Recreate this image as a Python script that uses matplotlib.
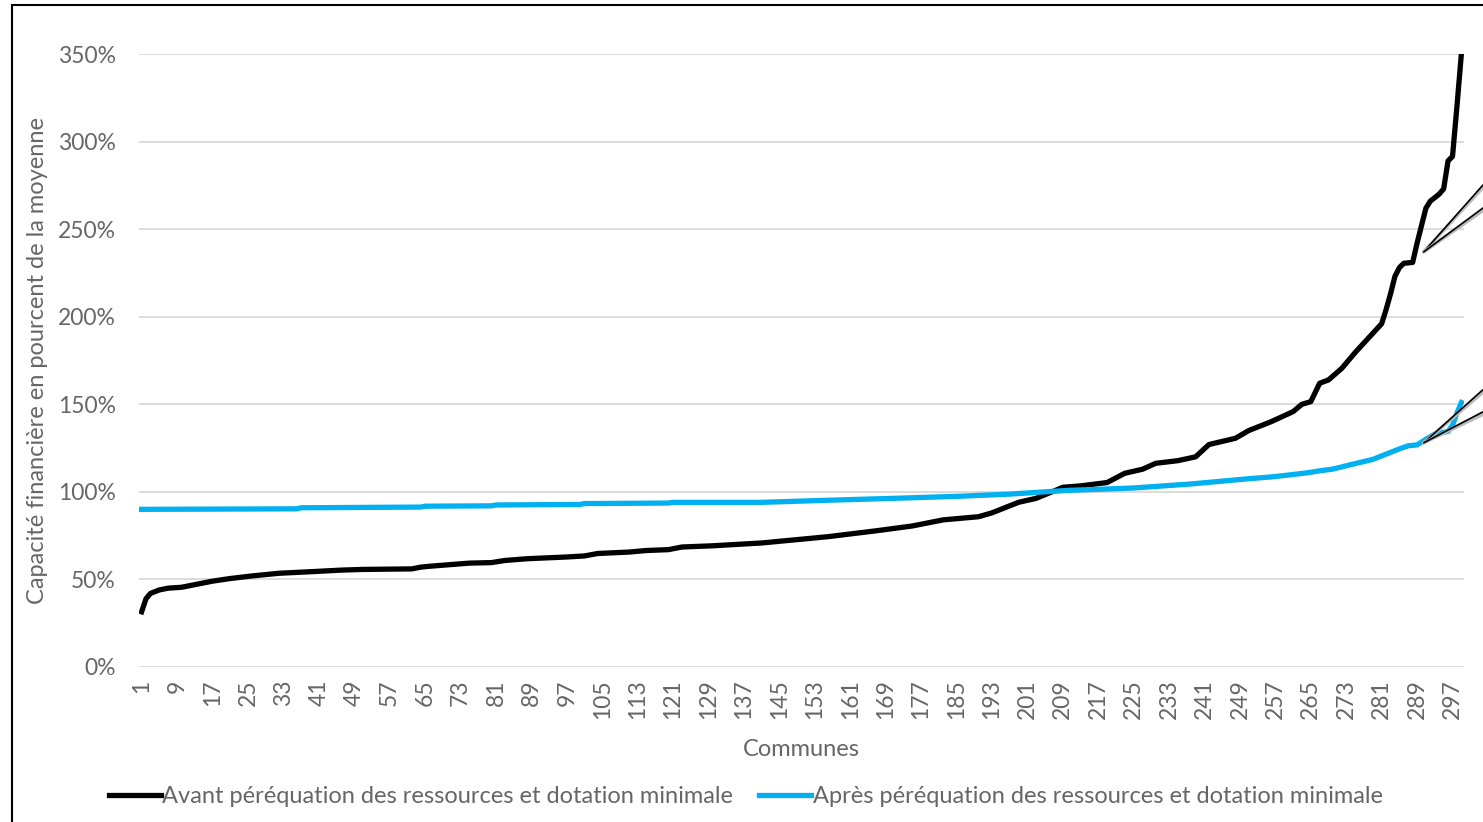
import matplotlib
matplotlib.use('Agg')
import matplotlib.pyplot as plt
from matplotlib.patches import ConnectionPatch, Rectangle
from matplotlib.ticker import FuncFormatter

# sorted communes, capacity in % of the mean
communes_avant = [1, 2, 3, 5, 7, 10, 13, 17, 21, 26, 32, 40, 46, 51, 62, 64, 66, 75, 80, 83,
                  88, 97, 101, 104, 111, 115, 120, 123, 130, 141, 156, 167, 175, 182, 190, 193,
                  196, 199, 203, 208, 209, 213, 219, 223, 227, 230, 235, 239, 242, 248, 251, 256,
                  261, 263, 265, 267, 269, 272, 275, 279, 281, 282, 283, 284, 285, 286, 288, 289,
                  290, 291, 292, 294, 295, 296, 297, 298, 299]
avant = [31.5, 39, 42, 44, 45, 45.5, 47, 49, 50.5, 52, 53.5, 54.5, 55.3, 55.7, 56, 57, 57.5, 59.3, 59.6, 60.8,
         61.8, 62.8, 63.4, 64.8, 65.6, 66.5, 67, 68.5, 69.2, 70.8, 74.4, 77.8, 80.5, 84, 85.8, 88,
         91, 94, 96.3, 101.5, 102.6, 103.4, 105.3, 110.6, 112.9, 116.3, 117.8, 120, 127, 130.6, 135, 140,
         145.8, 150, 151.5, 162, 163.9, 170.5, 179.5, 190.5, 196, 204, 213, 223, 228, 230.5, 231, 242,
         252, 262, 266, 270, 273, 289, 291.5, 320, 350]

communes_apres = [1, 36, 37, 64, 65, 80, 81, 100, 101, 120, 121, 141, 156, 171, 186, 197, 210, 225,
                  238, 251, 256, 260, 264, 267, 270, 274, 279, 282, 285, 287, 289, 291, 293, 295,
                  296, 297, 298, 299]
apres = [90, 90.3, 90.9, 91.3, 91.8, 92, 92.5, 92.8, 93.3, 93.6, 94, 94, 95.2, 96.3, 97.5, 98.7, 100.8, 102.2,
         104.5, 107.5, 108.5, 109.6, 110.8, 112, 113, 115.5, 118.5, 121.5, 124.5, 126.3, 126.8, 130, 133, 134,
         134.5, 138, 145, 151]

xticks = list(range(1, 300, 8))
yticks = [0, 50, 100, 150, 200, 250, 300, 350]

label_avant = 'Avant péréquation des ressources et dotation minimale'
label_apres = 'Après péréquation des ressources et dotation minimale'

plt.rcParams['font.family'] = ['Lato', 'DejaVu Sans']
grey = '#666666'

fig = plt.figure(figsize=(14.83, 8.22), dpi=100)
ax = fig.add_axes([0.094, 0.1886, 0.8929, 0.7457])

ax.plot(communes_avant, avant, color='black', lw=3.8, label=label_avant, solid_joinstyle='round')
ax.plot(communes_apres, apres, color='#00B0F0', lw=3.8, label=label_apres, solid_joinstyle='round')

ax.set_xlim(0.5, 299.5)
ax.set_ylim(0, 350)
ax.set_yticks(yticks)
ax.yaxis.set_major_formatter(FuncFormatter(lambda v, p: f'{v:.0f}%'))
ax.set_xticks(xticks)
ax.set_xticklabels([str(t) for t in xticks], rotation=90)
ax.tick_params(axis='both', length=0, labelsize=16.5, labelcolor=grey)
ax.tick_params(axis='x', pad=9)
ax.tick_params(axis='y', pad=17)
ax.grid(axis='y', color='#d9d9d9', lw=1.3)
ax.set_axisbelow(True)
for s in ax.spines.values():
    s.set_visible(False)

ax.set_xlabel('Communes', fontsize=17, color=grey, labelpad=14)
ax.set_ylabel('Capacité financière en pourcent de la moyenne', fontsize=17, color=grey, labelpad=7)

leg = fig.legend(loc='center', bbox_to_anchor=(0.503, 0.031), ncol=2, frameon=False,
                 fontsize=17, handlelength=2.2, handletextpad=0.05, columnspacing=1.1)
for t in leg.get_texts():
    t.set_color(grey)

# cut-off data label callouts on the right
for (c, v), ends in [((290, 237), [0.775, 0.747]), ((290, 128), [0.526, 0.499])]:
    for yb in ends:
        for col, off in [('#bbbbbb', 0.003), ('black', 0.0)]:
            cp = ConnectionPatch(xyA=(c + 0.5, v), coordsA=ax.transData,
                                 xyB=(1.0, yb - off), coordsB=fig.transFigure,
                                 color=col, lw=1.2 if col == 'black' else 2.5)
            fig.add_artist(cp)

# outer frame
fig.add_artist(Rectangle((12 / 1483, -0.01), 1.02, 1.0 - 5 / 822 + 0.01, transform=fig.transFigure,
                         fill=False, edgecolor='black', lw=1.5, clip_on=False))

fig.savefig('out.png', dpi=100)
